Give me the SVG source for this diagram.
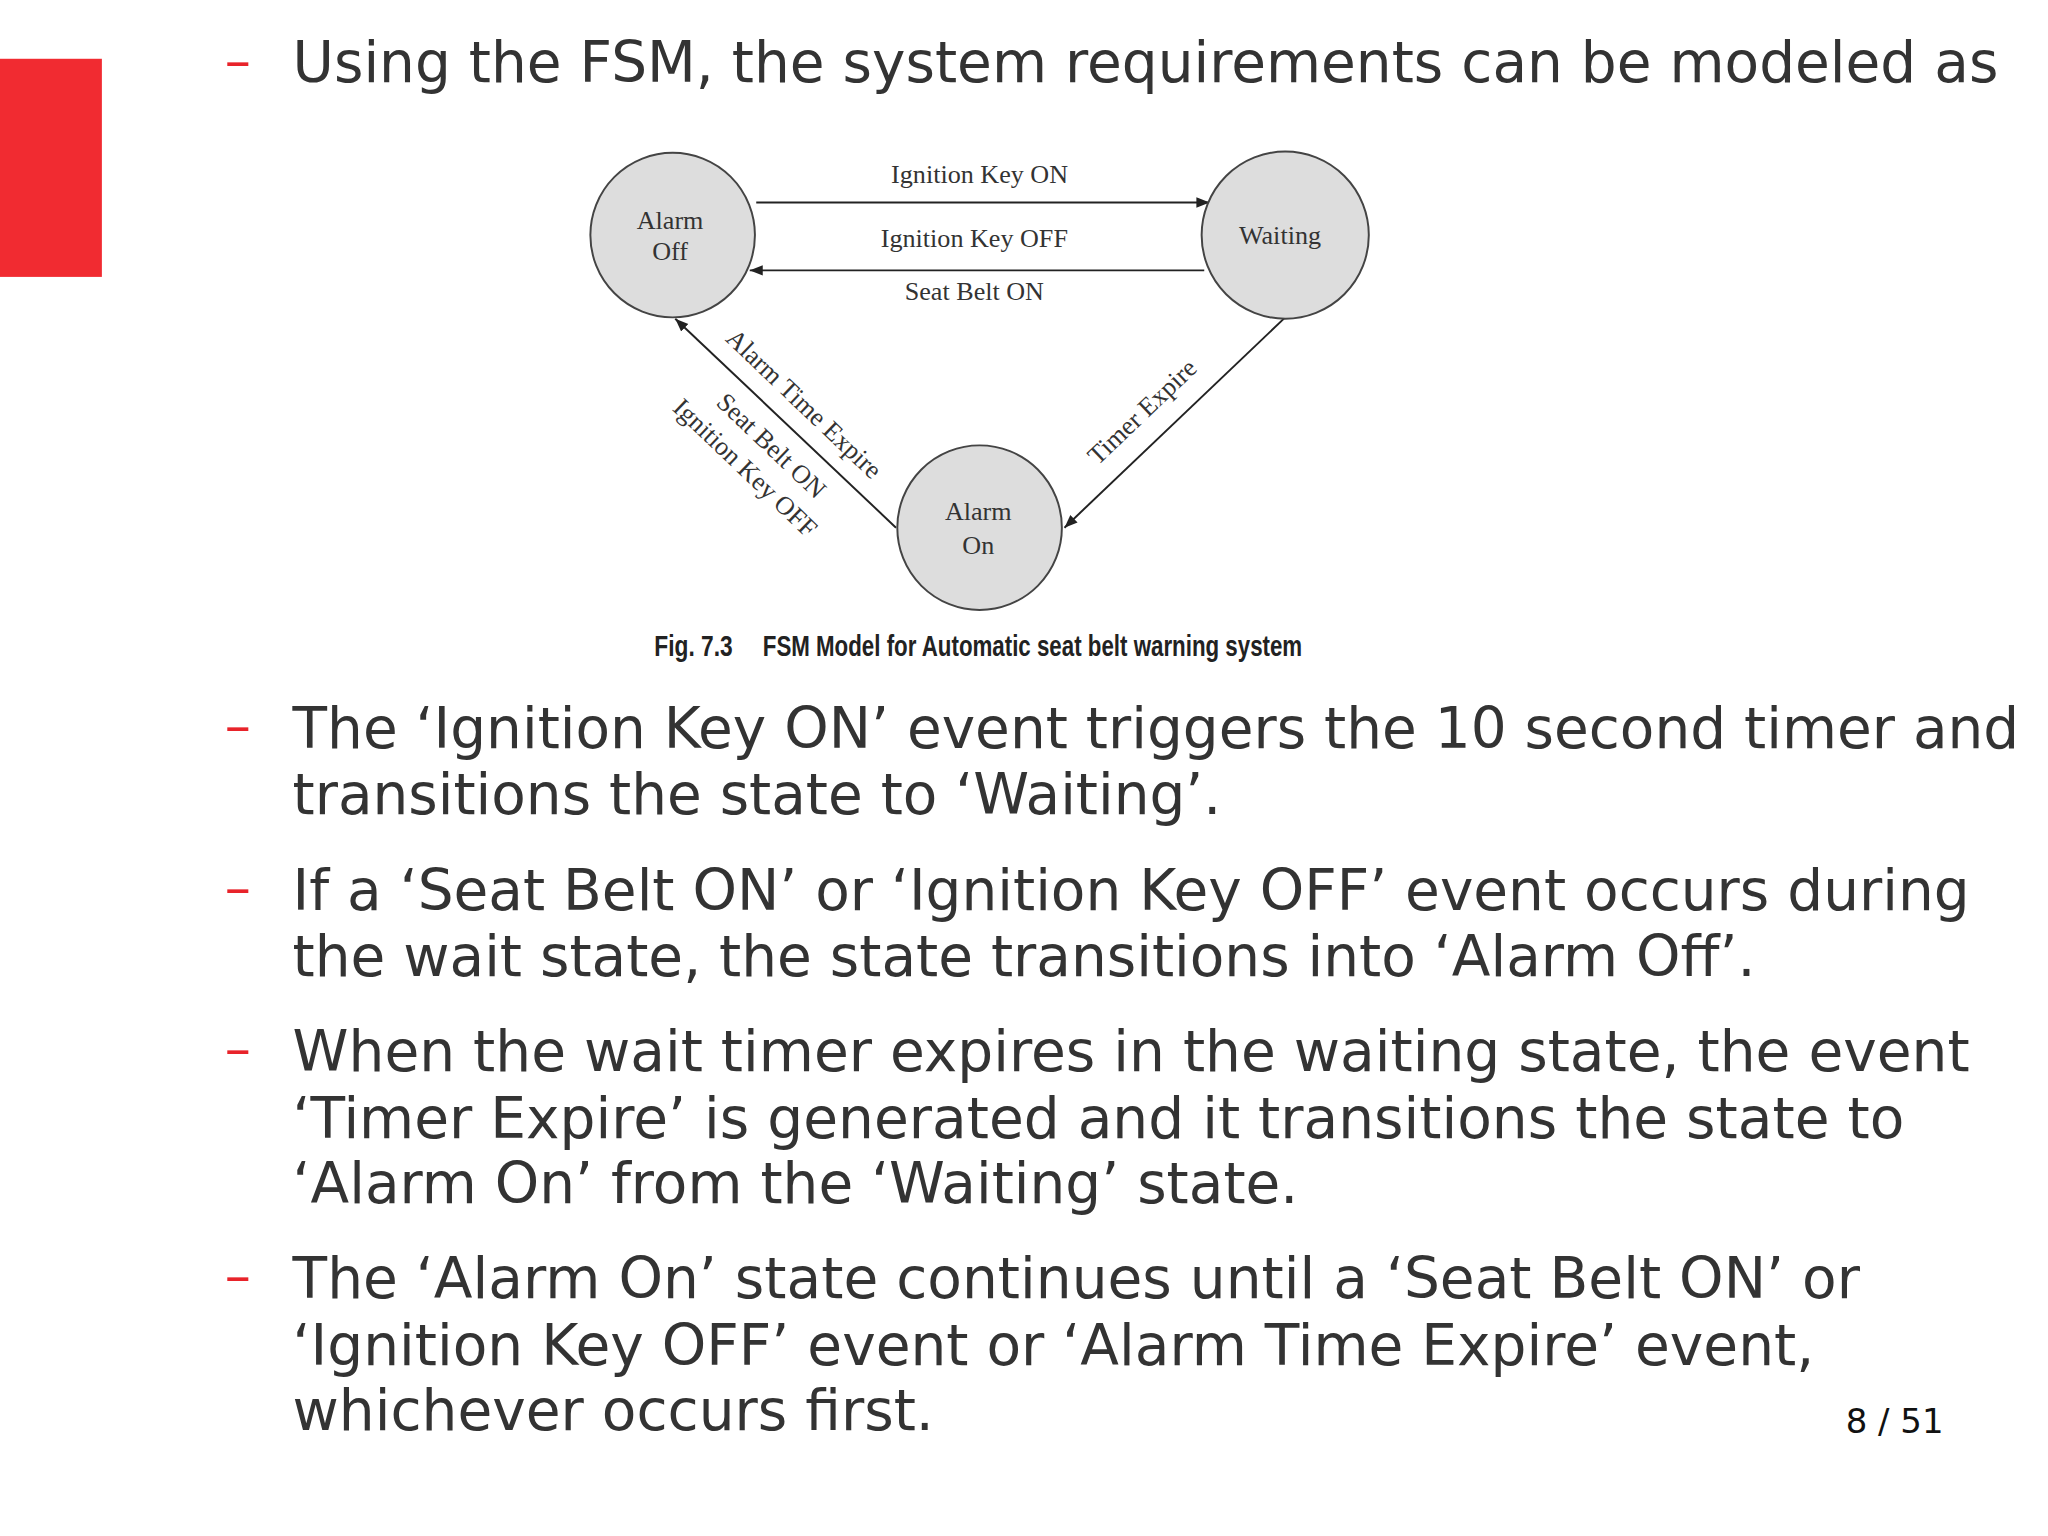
<svg xmlns="http://www.w3.org/2000/svg" width="2048" height="1536" viewBox="0 0 2048 1536">
<defs>
<marker id="ah" viewBox="0 0 10 10" refX="10" refY="5" markerWidth="10" markerHeight="10" markerUnits="userSpaceOnUse" orient="auto"><path d="M0,1 L10,5 L0,9 z" fill="#222"/></marker>
<style>
.b{font-family:"DejaVu Sans",sans-serif;font-size:43px;fill:#333}
.d{font-family:"DejaVu Sans",sans-serif;font-size:40px;fill:#e8232a}
.s{fill:#ddd;stroke:#444;stroke-width:1.5}
.l{font-family:"Liberation Serif",serif;font-size:20px;fill:#333;text-anchor:middle}
.c{stroke:#222;stroke-width:1.5;fill:none;marker-end:url(#ah)}
</style>
</defs>
<rect width="2048" height="1536" fill="#fff"/>
<g transform="scale(1.30612)">
<rect x="0" y="45" width="78" height="167" fill="#f12b31"/>
<text class="d" x="172" y="60">–</text>
<text class="b" x="224" y="63" textLength="1306" lengthAdjust="spacingAndGlyphs">Using the FSM, the system requirements can be modeled as</text>
<g id="connectors">
<line class="c" x1="579" y1="155" x2="926" y2="155"/>
<line class="c" x1="922" y1="207" x2="574" y2="207"/>
<line class="c" x1="686" y1="404" x2="517" y2="244"/>
<line class="c" x1="984" y1="243" x2="815" y2="404"/>
<text class="l" x="750" y="140">Ignition Key ON</text>
<text class="l" x="746" y="189">Ignition Key OFF</text>
<text class="l" x="746" y="230">Seat Belt ON</text>
<text class="l" transform="translate(611,314) rotate(43.6)">Alarm Time Expire</text>
<text class="l" transform="translate(586,346) rotate(43.6)">Seat Belt ON</text>
<text class="l" transform="translate(566,363) rotate(43.6)">Ignition Key OFF</text>
<text class="l" transform="translate(879,320) rotate(-43.6)">Timer Expire</text>
</g>
<g id="alarm-off"><circle class="s" cx="515" cy="180" r="63"/><text class="l" x="513" y="175">Alarm</text><text class="l" x="513" y="199">Off</text></g>
<g id="waiting"><circle class="s" cx="984" cy="180" r="64"/><text class="l" x="980" y="187">Waiting</text></g>
<g id="alarm-on"><circle class="s" cx="750" cy="404" r="63"/><text class="l" x="749" y="398">Alarm</text><text class="l" x="749" y="424">On</text></g>
<g font-family="'Liberation Sans',sans-serif" font-weight="bold" font-size="22" fill="#222">
<text x="501" y="502" textLength="60" lengthAdjust="spacingAndGlyphs">Fig. 7.3</text>
<text x="584" y="502" textLength="413" lengthAdjust="spacingAndGlyphs">FSM Model for Automatic seat belt warning system</text>
</g>
<g class="b">
<text class="d" x="172" y="569">–</text>
<text x="224" y="573" textLength="1322" lengthAdjust="spacingAndGlyphs">The ‘Ignition Key ON’ event triggers the 10 second timer and</text>
<text x="224" y="623" textLength="711" lengthAdjust="spacingAndGlyphs">transitions the state to ‘Waiting’.</text>
<text class="d" x="172" y="693">–</text>
<text x="224" y="697" textLength="1284" lengthAdjust="spacingAndGlyphs">If a ‘Seat Belt ON’ or ‘Ignition Key OFF’ event occurs during</text>
<text x="224" y="747" textLength="1120" lengthAdjust="spacingAndGlyphs">the wait state, the state transitions into ‘Alarm Off’.</text>
<text class="d" x="172" y="816">–</text>
<text x="224" y="820" textLength="1284" lengthAdjust="spacingAndGlyphs">When the wait timer expires in the waiting state, the event</text>
<text x="224" y="871" textLength="1234" lengthAdjust="spacingAndGlyphs">‘Timer Expire’ is generated and it transitions the state to</text>
<text x="224" y="921" textLength="770" lengthAdjust="spacingAndGlyphs">‘Alarm On’ from the ‘Waiting’ state.</text>
<text class="d" x="172" y="990">–</text>
<text x="224" y="994" textLength="1200" lengthAdjust="spacingAndGlyphs">The ‘Alarm On’ state continues until a ‘Seat Belt ON’ or</text>
<text x="224" y="1045" textLength="1165" lengthAdjust="spacingAndGlyphs">‘Ignition Key OFF’ event or ‘Alarm Time Expire’ event,</text>
<text x="224" y="1095" textLength="491" lengthAdjust="spacingAndGlyphs">whichever occurs first.</text>
</g>
<text x="1488" y="1097" text-anchor="end" font-family="'DejaVu Sans',sans-serif" font-size="26" fill="#111">8 / 51</text>
</g>
</svg>
